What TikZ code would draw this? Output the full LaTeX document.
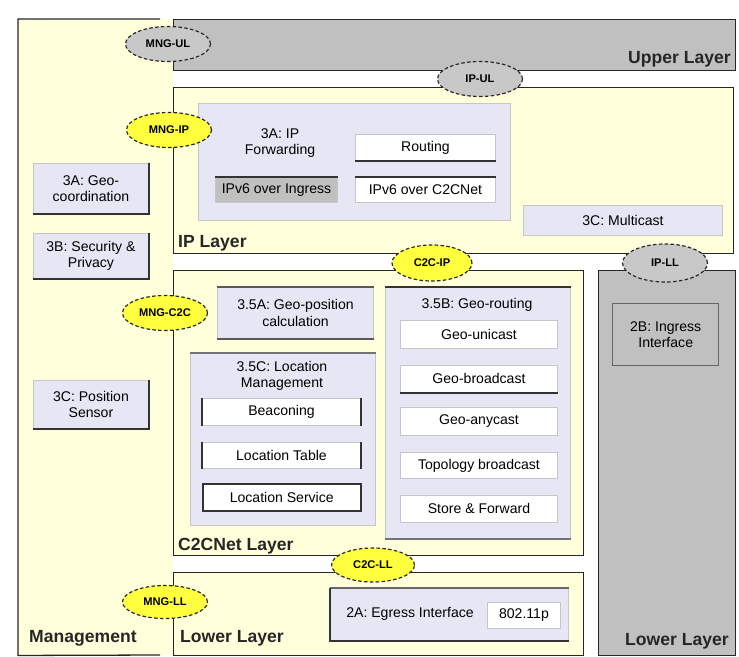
\documentclass[tikz,border=0pt]{standalone}
\usepackage{fontspec}
\setmainfont{Liberation Sans}
\usetikzlibrary{shapes.geometric}

\definecolor{layeryellow}{HTML}{FFFFDC}
\definecolor{boxlav}{HTML}{E6E6F4}
\definecolor{layergray}{HTML}{C0C0C0}
\definecolor{sapyellow}{HTML}{FFFF40}
\definecolor{sapgray}{HTML}{C8C8C8}
\newcommand{\pxu}{0.03cm}
\newcommand{\boxfont}{\fontsize{12}{14}\selectfont}
\newcommand{\layerfont}{\fontsize{15}{18}\selectfont\bfseries}
\newcommand{\sapfont}{\fontsize{9.5}{11}\selectfont\bfseries}

\tikzset{
  wh/.style n args={2}{minimum width=#1*\pxu, minimum height=#2*\pxu},
  layer/.style={anchor=north west, draw=black!85, line width=1.1pt, inner sep=0pt},
  box/.style={anchor=north west, fill=boxlav, draw=gray!45, line width=.8pt, font=\boxfont, align=center, inner sep=1pt},
  wbox/.style={box, fill=white},
  gbox/.style={box, fill=layergray},
  edge/.style={line width=1.5pt, black!80},
  sap/.style={ellipse, draw=black!85, densely dashed, line width=1pt, font=\sapfont, inner sep=0pt, wh={85}{35}},
  ysap/.style={sap, fill=sapyellow},
  gsap/.style={sap, fill=sapgray},
  lbl/.style={font=\layerfont, text=black!85, inner sep=0pt}
}

\begin{document}
\begin{tikzpicture}[x=\pxu, y=-\pxu]
\useasboundingbox (0,0) rectangle (739,657);

% layers
\node[anchor=north west, fill=layeryellow, wh={155}{636}, inner sep=0pt] (mgmt) at (18,19) {};
\draw[draw=black!85, line width=1.1pt] (160,19) -- (mgmt.north west) -- (mgmt.south west) -- (160,655);
\node[layer, fill=layergray, wh={562}{51}] (upper) at (173,19) {};
\node[layer, fill=layeryellow, wh={560}{166}] (ip) at (173,87) {};
\node[layer, fill=layeryellow, wh={410}{285}] (c2c) at (173,270) {};
\node[layer, fill=layeryellow, wh={410}{83}] (lowl) at (173,572) {};
\node[layer, fill=layergray, wh={137}{385}] (lowr) at (598,270) {};

% management
\node[box, wh={115}{50}] (geocoord) at (33,163) {3A: Geo-\\coordination};
\node[box, wh={115}{45}] (secpriv) at (33,233) {3B: Security \&\\Privacy};
\node[box, wh={115}{48}] (possens) at (33,380) {3C: Position\\Sensor};
\foreach \n in {geocoord,secpriv,possens}
  \draw[edge] (\n.north east) -- (\n.south east) -- (\n.south west);

% IP layer
\node[box, wh={312}{117}] (ipfwd) at (198,103) {};
\node[font=\boxfont, align=center] (ipfwdt) at (280,143) {3A: IP\\Forwarding};
\node[wbox, wh={140}{26}] (routing) at (355,134) {Routing};
\node[gbox, wh={122}{25}] (ingress) at (215,177) {IPv6 over Ingress};
\node[wbox, wh={140}{25}] (overc2c) at (355,177) {IPv6 over C2CNet};
\node[box, wh={199}{30}] (mcast) at (523,205) {3C: Multicast};
\draw[edge] (routing.south west) -- (routing.south east);
\draw[edge] (ingress.north west) -- (ingress.north east);
\draw[edge] (overc2c.north west) -- (overc2c.north east);

% C2CNet layer
\node[box, wh={156}{51}] (geopos) at (217,287) {3.5A: Geo-position\\calculation};
\draw[edge, black!65] (geopos.north west) -- (geopos.north east);
\draw[edge, black!65] (geopos.south west) -- (geopos.south east);

\node[box, wh={185}{172}] (locmgmt) at (190,353) {};
\node[font=\boxfont, align=center] (locmgmtt) at (282,376) {3.5C: Location\\Management};
\node[wbox, wh={158}{27}] (beacon) at (202,398) {Beaconing};
\node[wbox, wh={158}{26}] (loctab) at (202,442) {Location Table};
\node[wbox, wh={158}{27}, draw=black!80, line width=1.3pt] (locserv) at (202,483) {Location Service};
\draw[edge, black!55] (locmgmt.north west) -- (locmgmt.north east);
\foreach \n in {beacon,loctab} {
  \draw[edge] (\n.north west) -- (\n.south west);
  \draw[edge] (\n.north east) -- (\n.south east);
}

\node[box, wh={185}{251}] (georout) at (385,287) {};
\node[font=\boxfont] (georoutt) at (477,305) {3.5B: Geo-routing};
\node[wbox, wh={157}{28}] (gunicast) at (400,320) {Geo-unicast};
\node[wbox, wh={157}{27}] (gbcast) at (400,365) {Geo-broadcast};
\node[wbox, wh={157}{28}] (ganycast) at (400,407) {Geo-anycast};
\node[wbox, wh={157}{26}] (topobc) at (400,452) {Topology broadcast};
\node[wbox, wh={157}{27}] (storefwd) at (400,495) {Store \& Forward};
\draw[edge] (georout.north west) -- (georout.north east);
\draw[edge, black!55] (georout.south west) -- (georout.south east);
\draw[edge] (gbcast.south west) -- (gbcast.south east);

% lower layers
\node[gbox, wh={106}{62}, draw=black!60, line width=1.2pt] (ingif) at (612,303) {2B: Ingress\\Interface};
\node[box, wh={238}{52}] (egress) at (330,588) {};
\node[font=\boxfont] (egresst) at (410,614) {2A: Egress Interface};
\node[wbox, wh={73}{26}] (wave) at (487,602) {802.11p};
\draw[edge, black!60] (egress.north west) -- (egress.north east);
\draw[edge] (egress.north west) -- (egress.south west) -- (egress.south east);

% service access points
\node[gsap] (mngul) at (168,44) {MNG-UL};
\node[gsap] (ipul) at (480,79) {IP-UL};
\node[ysap] (mngip) at (169,130) {MNG-IP};
\node[ysap, wh={80}{36}] (c2cip) at (432,263) {C2C-IP};
\node[gsap, wh={85}{38}] (ipll) at (665,263) {IP-LL};
\node[ysap] (mngc2c) at (165,313) {MNG-C2C};
\node[ysap, wh={83}{34}] (c2cll) at (373,565) {C2C-LL};
\node[ysap, wh={85}{33}] (mngll) at (165,602) {MNG-LL};

% layer names
\node[lbl, anchor=base east] (upperl) at (731,64) {Upper Layer};
\node[lbl, anchor=base west] (ipl) at (178,248) {IP Layer};
\node[lbl, anchor=base west] (c2cl) at (178,550) {C2CNet Layer};
\node[lbl, anchor=base west] (mgmtl) at (29,642) {Management};
\node[lbl, anchor=base west] (lowll) at (180,642) {Lower Layer};
\node[lbl, anchor=base east] (lowrl) at (729,645) {Lower Layer};
\end{tikzpicture}
\end{document}
